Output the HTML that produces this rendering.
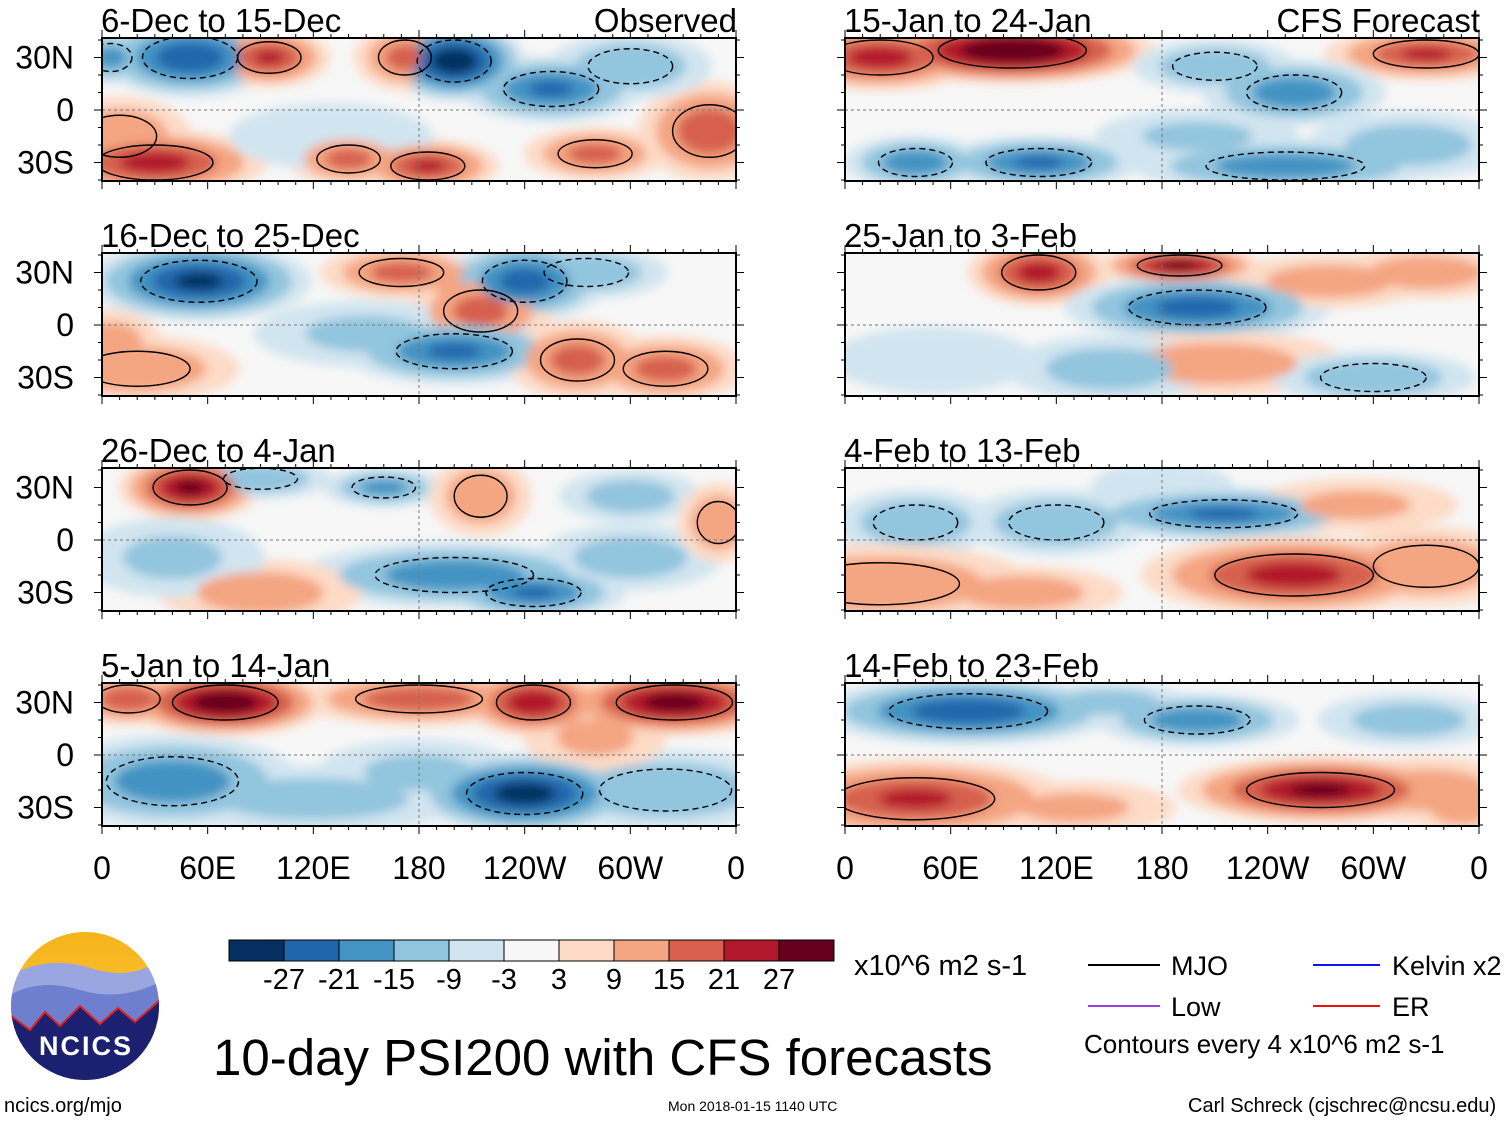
<!DOCTYPE html>
<html><head><meta charset="utf-8"><style>
body{margin:0;background:#fff;width:1510px;height:1121px;overflow:hidden;font-family:"Liberation Sans",sans-serif}
svg text{font-family:"Liberation Sans",sans-serif}
</style></head><body>
<svg id="fig" width="1510" height="1121">
<defs>
<filter id="blur" x="-30%" y="-30%" width="160%" height="160%"><feGaussianBlur stdDeviation="5"/></filter>
<linearGradient id="sky" x1="0" y1="0" x2="0" y2="1"><stop offset="0" stop-color="#f6b21a"/><stop offset="1" stop-color="#fcd34a"/></linearGradient>
</defs>
<g id="panels"></g>
<g id="colorbar"></g>
<text x="854" y="975" font-size="29">x10^6 m2 s-1</text>
<g font-size="27">
<line x1="1088" y1="965" x2="1160" y2="965" stroke="#000" stroke-width="2"/>
<text x="1171" y="975">MJO</text>
<line x1="1313" y1="965" x2="1380" y2="965" stroke="#1010ff" stroke-width="2"/>
<text x="1392" y="975">Kelvin x2</text>
<line x1="1088" y1="1006" x2="1160" y2="1006" stroke="#9b3fe0" stroke-width="2"/>
<text x="1171" y="1016">Low</text>
<line x1="1313" y1="1006" x2="1380" y2="1006" stroke="#ee1010" stroke-width="2"/>
<text x="1392" y="1016">ER</text>
<text x="1084" y="1053" font-size="26">Contours every 4 x10^6 m2 s-1</text>
</g>
<text x="213" y="1075" font-size="51">10-day PSI200 with CFS forecasts</text>
<text x="4" y="1112" font-size="20">ncics.org/mjo</text>
<text x="668" y="1111" font-size="14">Mon 2018-01-15 1140 UTC</text>
<text x="1188" y="1112" font-size="20">Carl Schreck (cjschrec@ncsu.edu)</text>
<g>
<clipPath id="lc"><circle cx="85" cy="1006" r="74"/></clipPath>
<g clip-path="url(#lc)">
<rect x="10" y="930" width="150" height="160" fill="url(#sky)"/>
<path d="M10 975 Q50 955 90 968 T160 960 V1090 H10Z" fill="#9aa6e0"/>
<path d="M10 995 Q40 978 80 990 T160 982 V1090 H10Z" fill="#6f7fd0"/>
<path d="M10 1015 L30 1030 L45 1012 L60 1026 L80 1006 L100 1024 L118 1008 L135 1022 L160 1000 V1090 H10Z" fill="#1b2070"/>
<path d="M10 1015 L30 1030 L45 1012 L60 1026 L80 1006 L100 1024 L118 1008 L135 1022 L160 1000" fill="none" stroke="#e02020" stroke-width="2"/>
</g>
<text x="86" y="1055" font-size="27" font-weight="bold" fill="#fff" text-anchor="middle" letter-spacing="2">NCICS</text>
</g>
</svg>
<script>
const cbLevels=[-27,-21,-15,-9,-3,3,9,15,21,27];
const cbColors=["#053061","#2166ac","#4393c3","#92c5de","#d1e5f0","#f7f7f7","#fddbc7","#f4a582","#d6604d","#b2182b","#67001f"];
const xTickLabels=["0","60E","120E","180","120W","60W","0"];
const xTickLons=[0,60,120,180,240,300,360];
const yTickLabels=["30N","0","30S"];
const yTickLats=[30,0,-30];
const panelTitles=["6-Dec to 15-Dec","16-Dec to 25-Dec","26-Dec to 4-Jan","5-Jan to 14-Jan","15-Jan to 24-Jan","25-Jan to 3-Feb","4-Feb to 13-Feb","14-Feb to 23-Feb"];
// blobs: [lon, lat, value, lonHalfWidth, latHalfWidth]
const blobs0=[[50,30,-20,18,12],[95,30,16,12,9],[200,28,-26,14,12],[255,12,-16,18,10],[172,30,12,10,10],[30,-30,18,22,10],[140,-28,12,12,8],[185,-32,16,14,8],[280,-25,12,14,8],[345,-12,14,14,15],[10,-15,10,14,12],[300,25,-10,16,10],[130,-15,-5,20,10],[5,30,-12,8,8]];
const blobs1=[[55,25,-22,22,12],[170,30,12,16,8],[205,25,8,10,8],[240,25,-18,16,12],[215,8,12,14,12],[200,-15,-16,22,10],[150,-5,-6,22,10],[270,-20,12,14,12],[320,-25,12,16,10],[20,-25,10,20,10],[275,30,-10,16,8],[5,-10,8,10,10]];
const blobs2=[[50,30,22,14,10],[90,35,-10,14,6],[160,30,-12,12,6],[215,25,10,10,12],[300,25,-8,14,8],[200,-20,-14,30,10],[245,-30,-16,18,8],[90,-30,8,20,10],[40,-10,-6,18,12],[300,-10,-8,18,10],[350,10,10,8,12]];
const blobs3=[[15,32,14,12,8],[70,30,26,20,10],[180,32,14,24,8],[245,30,20,14,10],[325,30,24,22,10],[240,-22,-24,22,12],[40,-15,-14,25,14],[120,-25,-8,30,10],[320,-20,-10,25,12],[280,10,6,14,10],[180,-10,-6,20,10]];
const blobs4=[[95,34,28,28,10],[20,30,18,20,10],[330,32,16,20,8],[210,25,-10,16,8],[255,10,-14,18,10],[40,-30,-14,14,8],[110,-30,-16,20,8],[250,-32,-14,30,8],[320,-20,-8,20,10],[200,-15,-6,20,8]];
const blobs5=[[110,30,18,14,10],[190,34,22,16,6],[200,10,-18,26,10],[275,25,8,20,8],[210,-22,8,26,10],[150,-25,-8,20,10],[300,-30,-10,20,8],[330,30,8,18,8],[50,-20,-4,20,10]];
const blobs6=[[40,10,-10,16,10],[120,10,-10,18,10],[215,15,-16,28,8],[255,-20,18,30,12],[20,-25,10,30,12],[100,-30,8,20,8],[330,-15,10,20,12],[290,20,6,20,8],[180,30,-4,14,8]];
const blobs7=[[70,25,-20,30,10],[200,20,-14,20,8],[150,30,-8,16,6],[270,-20,22,28,10],[40,-25,16,30,12],[130,-30,6,20,8],[330,-20,8,20,10],[320,20,-8,18,8],[350,-30,8,10,8]];
const allBlobs=[blobs0,blobs1,blobs2,blobs3,blobs4,blobs5,blobs6,blobs7];

const NS="http://www.w3.org/2000/svg";
function mk(t,a,p){const e=document.createElementNS(NS,t);for(const k in a)e.setAttribute(k,a[k]);(p||document.getElementById('panels')).appendChild(e);return e;}
function colorFor(v){let i=0;while(i<cbLevels.length&&v>cbLevels[i])i++;return cbColors[i];}
const colX=[102,845],rowY=[38,253,468,683],PW=634,PH=143;
function xScale(x0,lon){return x0+lon/360*PW;}
function yScale(y0,lat){return y0+72-lat*1.75;}
for(let p=0;p<8;p++){
  const c=p<4?0:1,r=p%4,x0=colX[c],y0=rowY[r];
  const g=mk('g',{});
  
  
  const cid='clip'+p;
  const cp=mk('clipPath',{id:cid},g);mk('rect',{x:x0,y:y0,width:PW,height:PH},cp);
  const inner=mk('g',{'clip-path':'url(#'+cid+')'},g);
  mk('rect',{x:x0,y:y0,width:PW,height:PH,fill:'#f7f7f7'},inner);
  const fg=mk('g',{filter:'url(#blur)'},inner);
  const bl=allBlobs[p];
  for(const lvl of [1,6,12,18,24]){
    for(const b of bl){
      const a=Math.abs(b[2])*1.15;if(a<lvl)continue;
      const s=1-(lvl-1)/(a+4);
      const el=mk('ellipse',{cx:xScale(x0,b[0]),cy:yScale(y0,b[1]),rx:b[3]/360*PW*2.9*s,ry:b[4]*1.75*1.9*s,fill:colorFor(Math.sign(b[2])*(lvl+3.5))},fg);
      
      
    }
  }
  for(const b of bl){
    if(Math.abs(b[2])<10)continue;
    const el=mk('ellipse',{cx:xScale(x0,b[0]),cy:yScale(y0,b[1]),rx:b[3]/360*PW*1.5,ry:b[4]*1.75,fill:'none',stroke:'#000','stroke-width':1.4,'stroke-dasharray':b[2]<0?'6,4':'none'},inner);
    
    
  }
  mk('line',{x1:x0,x2:x0+PW,y1:yScale(y0,0),y2:yScale(y0,0),stroke:'#777','stroke-dasharray':'3,3'},inner);
  mk('line',{x1:xScale(x0,180),x2:xScale(x0,180),y1:y0,y2:y0+PH,stroke:'#777','stroke-dasharray':'3,3'},inner);
  mk('rect',{x:x0,y:y0,width:PW,height:PH,fill:'none',stroke:'#000','stroke-width':2},g);
  for(let l=0;l<=360;l+=10){const x=xScale(x0,l),L=l%60==0?8:4;mk('line',{x1:x,x2:x,y1:y0,y2:y0-L,stroke:'#000'},g);mk('line',{x1:x,x2:x,y1:y0+PH,y2:y0+PH+L,stroke:'#000'},g);}
  for(let la=-40;la<=40;la+=10){const y=yScale(y0,la),L=la%30==0?8:4;mk('line',{x1:x0,x2:x0-L,y1:y,y2:y,stroke:'#000'},g);mk('line',{x1:x0+PW,x2:x0+PW+L,y1:y,y2:y,stroke:'#000'},g);}
  const t=mk('text',{x:x0-1,y:y0-6,'font-size':33},g);t.textContent=panelTitles[p];
  
  if(p==0||p==4){const t2=mk('text',{x:x0+PW+1,y:y0-6,'font-size':33,'text-anchor':'end'},g);t2.textContent=p==0?'Observed':'CFS Forecast';
    }
  if(c==0){yTickLabels.forEach((s,i)=>{const e=mk('text',{x:74,y:yScale(y0,yTickLats[i])+11,'font-size':32,'text-anchor':'end'},g);e.textContent=s;
    });}
  if(r==3){xTickLabels.forEach((s,i)=>{const e=mk('text',{x:xScale(x0,xTickLons[i]),y:879,'font-size':32,'text-anchor':'middle'},g);e.textContent=s;
    });}
}
const cb=document.getElementById('colorbar');
cbColors.forEach((col,i)=>{const e=mk('rect',{x:229+i*55,y:940,width:55,height:21,fill:col,stroke:'#000'},cb);
  });
cbLevels.forEach((v,i)=>{const e=mk('text',{x:284+i*55,y:989,'font-size':29,'text-anchor':'middle'},cb);e.textContent=String(v);
  });
</script>
</body></html>
